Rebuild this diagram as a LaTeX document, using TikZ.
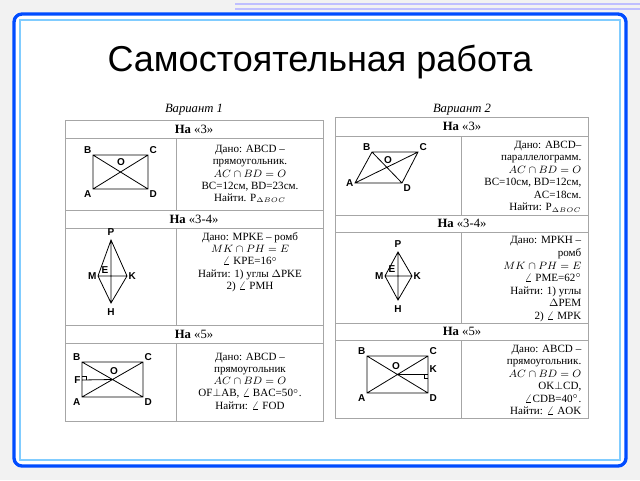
\documentclass[tikz,border=0pt]{standalone}
\usepackage{fontspec}
\setmainfont{Liberation Serif}
\setsansfont{Liberation Sans}
\begin{document}
\begin{tikzpicture}[x=0.75pt,y=-0.75pt,
    cell/.style={draw=gray!70,line width=0.5pt},
    head/.style={font=\fontsize{9.5}{10}\selectfont},
    given/.style={font=\fontsize{8.3}{9.2}\selectfont,align=center},
    givenr/.style={font=\fontsize{8.3}{9.4}\selectfont,align=right,anchor=north east},
    pt/.style={font=\sffamily\bfseries\fontsize{7.5}{8}\selectfont,inner sep=1pt},
    fig/.style={line width=0.6pt}]
    \useasboundingbox (0,0) rectangle (640,480);
    % slide background and frame
    \fill[gray!10] (0,0) rectangle (640,480);
    \fill[white] (14,14) rectangle (626,466);
    \draw[blue!70!cyan,line width=2.5pt,rounded corners=6pt] (14,14) rectangle (626,466);
    \draw[blue!40!cyan!50,line width=1pt] (20,20) rectangle (620,460);
    \foreach \y in {4,9} \draw[blue!25,line width=1.5pt] (235,\y) -- (640,\y);
    \node[font=\sffamily\fontsize{27}{30}\selectfont] (title) at (320,62) {Самостоятельная работа};
    % variant 1 table
    \node[font=\itshape\fontsize{9.5}{10}\selectfont] (var1) at (194,110) {Вариант 1};
    \draw[cell] (65,120) rectangle (323,421);
    \foreach \y in {138,210,228,325,343} \draw[cell] (65,\y) -- (323,\y);
    \foreach \a/\b in {138/210,228/325,343/421} \draw[cell] (176,\a) -- (176,\b);
    \node[head] (h13) at (194,129) {\textbf{На} «3»};
    \node[head] (h134) at (194,219) {\textbf{На} «3-4»};
    \node[head] (h15) at (194,334) {\textbf{На} «5»};
    \node[given] (t13) at (250,174) {Дано: ABCD –\\прямоугольник.\\$AC\cap BD=O$\\BC=12см, BD=23см.\\Найти. P$_{\scriptscriptstyle\Delta BOC}$};
    \node[given] (t134) at (250,262) {Дано: MPKE – ромб\\$MK\cap PH=E$\\$\angle$ KPE=16$^\circ$\\Найти: 1) углы $\Delta$PKE\\2) $\angle$ PMH};
    \node[given] (t15) at (250,381) {Дано: ABCD –\\прямоугольник\\$AC\cap BD=O$\\OF$\perp$AB, $\angle$ BAC=50$^\circ$.\\Найти: $\angle$ FOD};
    % variant 1 figures
    \coordinate (a1) at (93,189); \coordinate (b1) at (93,155);
    \coordinate (c1) at (148,155); \coordinate (d1) at (148,189);
    \draw[fig] (a1) -- (b1) -- (c1) -- (d1) -- cycle (a1) -- (c1) (b1) -- (d1);
    \node[pt,above left] at (b1) {B}; \node[pt,above right] at (c1) {C};
    \node[pt,below left] at (a1) {A}; \node[pt,below right] at (d1) {D};
    \node[pt] at (121,162) {O};
    \coordinate (p1) at (111,240); \coordinate (k1) at (127,276);
    \coordinate (h1) at (111,303); \coordinate (m1) at (98,276);
    \draw[fig] (p1) -- (k1) -- (h1) -- (m1) -- cycle (p1) -- (h1) (m1) -- (k1);
    \node[pt,above=2pt] at (p1) {P}; \node[pt,below=3pt] at (h1) {H};
    \node[pt,left] at (m1) {M}; \node[pt,right] at (k1) {K};
    \node[pt] at (105,270) {E};
    \coordinate (a2) at (82,397); \coordinate (b2) at (82,362);
    \coordinate (c2) at (143,362); \coordinate (d2) at (143,397);
    \coordinate (f2) at (82,380); \coordinate (o2) at (112.5,379.5);
    \draw[fig] (a2) -- (b2) -- (c2) -- (d2) -- cycle (a2) -- (c2) (b2) -- (d2) (f2) -- (o2);
    \draw[line width=0.4pt] (82,376) -- (86,376) -- (86,380);
    \node[pt,above left] at (b2) {B}; \node[pt,above right] at (c2) {C};
    \node[pt,below left] at (a2) {A}; \node[pt,below right] at (d2) {D};
    \node[pt,left] at (f2) {F}; \node[pt] at (114,371) {O};
    % variant 2 table
    \node[font=\itshape\fontsize{9.5}{10}\selectfont] (var2) at (462,110) {Вариант 2};
    \draw[cell] (335,117) rectangle (588,418);
    \foreach \y in {136,215,232,323,340} \draw[cell] (335,\y) -- (588,\y);
    \foreach \a/\b in {136/215,232/323,340/418} \draw[cell] (461,\a) -- (461,\b);
    \node[head] (h23) at (462,126) {\textbf{На} «3»};
    \node[head] (h234) at (462,223) {\textbf{На} «3-4»};
    \node[head] (h25) at (462,331) {\textbf{На} «5»};
    \node[givenr] (t23) at (586,136) {Дано: ABCD–\\параллелограмм.\\$AC\cap BD=O$\\BC=10см, BD=12см,\\AC=18см.\\Найти: P$_{\scriptscriptstyle\Delta BOC}$};
    \node[givenr] (t234) at (586,232) {Дано: MPKH –\\ромб\\$MK\cap PH=E$\\$\angle$ PME=62$^\circ$\\Найти: 1) углы\\$\Delta$PEM\\2) $\angle$ MPK};
    \node[givenr] (t25) at (586,340) {Дано: ABCD –\\прямоугольник.\\$AC\cap BD=O$\\OK$\perp$CD,\\$\angle$CDB=40$^\circ$.\\Найти: $\angle$ AOK};
    % variant 2 figures
    \coordinate (a3) at (355,183); \coordinate (b3) at (372,152);
    \coordinate (c3) at (418,152); \coordinate (d3) at (402,183);
    \draw[fig] (a3) -- (b3) -- (c3) -- (d3) -- cycle (a3) -- (c3) (b3) -- (d3);
    \node[pt,above left] at (b3) {B}; \node[pt,above right] at (c3) {C};
    \node[pt,left] at (a3) {A}; \node[pt,below right] at (d3) {D};
    \node[pt] at (388,160) {O};
    \coordinate (p2) at (398,252); \coordinate (k2) at (412,276);
    \coordinate (h2) at (398,300); \coordinate (m2) at (385,276);
    \draw[fig] (p2) -- (k2) -- (h2) -- (m2) -- cycle (p2) -- (h2) (m2) -- (k2);
    \node[pt,above=2pt] at (p2) {P}; \node[pt,below=3pt] at (h2) {H};
    \node[pt,left] at (m2) {M}; \node[pt,right] at (k2) {K};
    \node[pt] at (392,269) {E};
    \coordinate (a4) at (367,393); \coordinate (b4) at (367,356);
    \coordinate (c4) at (428,356); \coordinate (d4) at (428,393);
    \coordinate (k4) at (428,374.5); \coordinate (o4) at (397.5,374.5);
    \draw[fig] (a4) -- (b4) -- (c4) -- (d4) -- cycle (a4) -- (c4) (b4) -- (d4) (o4) -- (k4);
    \draw[line width=0.4pt] (424,374.5) -- (424,378.5) -- (428,378.5);
    \node[pt,above left] at (b4) {B}; \node[pt,above right] at (c4) {C};
    \node[pt,below left] at (a4) {A}; \node[pt,below right] at (d4) {D};
    \node[pt,above right] at (k4) {K}; \node[pt] at (396,366) {O};
\end{tikzpicture}
\end{document}
